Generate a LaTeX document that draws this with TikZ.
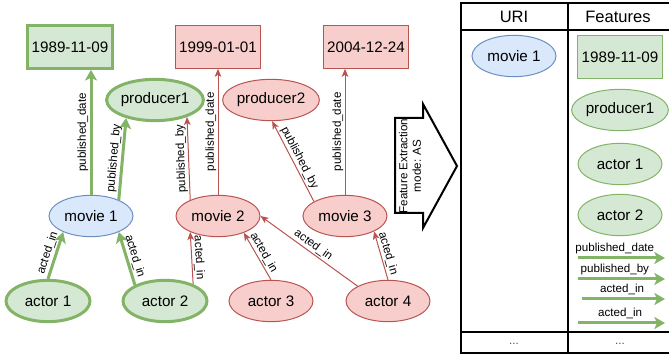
\documentclass[tikz,border=0pt]{standalone}
\usepackage{fontspec}
\setmainfont{Liberation Sans}
\usetikzlibrary{shapes.geometric,arrows.meta}

\definecolor{gfill}{HTML}{D5E8D4}
\definecolor{gline}{HTML}{82B366}
\definecolor{rfill}{HTML}{F8CECC}
\definecolor{rline}{HTML}{B85450}
\definecolor{bfill}{HTML}{DAE8FC}
\definecolor{bline}{HTML}{6C8EBF}

\tikzset{
  ent/.style={ellipse, draw, minimum width=63pt, minimum height=31pt, inner sep=0pt,
    font=\fontsize{11.4}{13}\selectfont},
  lit/.style={rectangle, draw, minimum width=64pt, minimum height=32pt, inner sep=0pt,
    font=\fontsize{11.4}{13}\selectfont},
  gnode/.style={fill=gfill, draw=gline, line width=0.75pt},
  rnode/.style={fill=rfill, draw=rline, line width=0.75pt},
  bnode/.style={fill=bfill, draw=bline, line width=0.75pt},
  hot/.style={line width=2.25pt},
  gedge/.style={draw=gline, line width=2.25pt, -{Stealth[length=8pt,width=9pt,inset=2pt]}},
  redge/.style={draw=rline, line width=0.75pt, -{Stealth[length=6pt,width=5pt,inset=1.5pt]}},
  lbl/.style={font=\fontsize{8.7}{10}\selectfont, inner sep=1pt, midway, sloped, above},
  small/.style={font=\fontsize{8.7}{10}\selectfont, inner sep=1pt},
}

\begin{document}
\begin{tikzpicture}[x=0.75pt,y=-0.75pt]
  \useasboundingbox (0,0) rectangle (669,356);

  % knowledge graph
  \draw
    (70,47) node[lit,gnode,hot] (d1) {1989-11-09}
    (218,47) node[lit,rnode] (d2) {1999-01-01}
    (366,47) node[lit,rnode] (d3) {2004-12-24}
    (155,100) node[ent,gnode,hot] (p1) {producer1}
    (271,100) node[ent,rnode] (p2) {producer2}
    (91,216) node[ent,bnode] (m1) {movie 1}
    (218,216) node[ent,rnode] (m2) {movie 2}
    (345,216) node[ent,rnode] (m3) {movie 3}
    (48,301) node[ent,gnode,hot] (a1) {actor 1}
    (165,301) node[ent,gnode,hot] (a2) {actor 2}
    (271,301) node[ent,rnode] (a3) {actor 3}
    (388,301) node[ent,rnode] (a4) {actor 4};

  \begin{scope}[gedge]
    \draw (m1.north) -- (m1.north |- d1.south) node[lbl] {published\_date};
    \draw (m1.30) -- (p1.212) node[lbl] {published\_by};
    \draw (a1.north) -- (m1.-150) node[lbl] {acted\_in};
    \draw (a2.152) -- (m1.-30) node[lbl] {acted\_in};
  \end{scope}

  \begin{scope}[redge]
    \draw (m2.150) -- (p1.-28) node[lbl, allow upside down] {published\_by};
    \draw (m2) -- (d2) node[lbl] {published\_date};
    \draw (m3.155) -- (p2.-87) node[lbl] {published\_by};
    \draw (m3.north) -- (m3.north |- d3.south) node[lbl] {published\_date};
    \draw (a2.31) -- (m2.-150) node[lbl] {acted\_in};
    \draw (a3.north) -- (m2.-33) node[lbl] {acted\_in};
    \draw (a4.154) -- (m2.east) node[lbl] {acted\_in};
    \draw (a4.north) -- (m3.-28) node[lbl] {acted\_in};
  \end{scope}

  % extraction arrow
  \draw[line width=1.5pt, line join=miter]
    (395,118) -- (423,118) -- (423,104) -- (457,166) -- (423,228) -- (423,213) -- (395,213) -- cycle;
  \node[small, rotate=90, align=center] (fx) at (410,166) {Feature Extraction\\mode: AS};

  % result table
  \draw[line width=1.2pt] (461,3) rectangle (670,353);
  \draw[line width=1.2pt] (461,30) -- (670,30) (461,332) -- (670,332) (568,3) -- (568,353);
  \node[font=\fontsize{12.4}{14}\selectfont] (uri) at (514,17) {URI};
  \node[font=\fontsize{12.4}{14}\selectfont] (feat) at (618,17) {Features};

  \draw
    (514,56) node[ent,bnode] (t0) {movie 1}
    (620,57) node[lit,gnode] (t1) {1989-11-09}
    (620,110) node[ent,gnode] (t2) {producer1}
    (620,164) node[ent,gnode] (t3) {actor 1}
    (620,215) node[ent,gnode] (t4) {actor 2};

  \coordinate (f1a) at (578,258); \coordinate (f1b) at (665,258);
  \coordinate (f2a) at (578,279); \coordinate (f2b) at (665,279);
  \coordinate (f3a) at (582,299); \coordinate (f3b) at (665,299);
  \coordinate (f4a) at (578,323); \coordinate (f4b) at (665,323);
  \begin{scope}[gedge]
    \draw (f1a) -- (f1b) node[small, midway, above=1pt, xshift=-5pt] {published\_date};
    \draw (f2a) -- (f2b) node[small, midway, above=1pt, xshift=-5pt] {published\_by};
    \draw (f3a) -- (f3b) node[small, midway, above=1pt, xshift=-1pt] {acted\_in};
    \draw (f4a) -- (f4b) node[small, midway, above=1pt, xshift=-1pt] {acted\_in};
  \end{scope}

  \node[small, text=black!70] (more1) at (514,344) {...};
  \node[small, text=black!70] (more2) at (620,344) {...};
\end{tikzpicture}
\end{document}
